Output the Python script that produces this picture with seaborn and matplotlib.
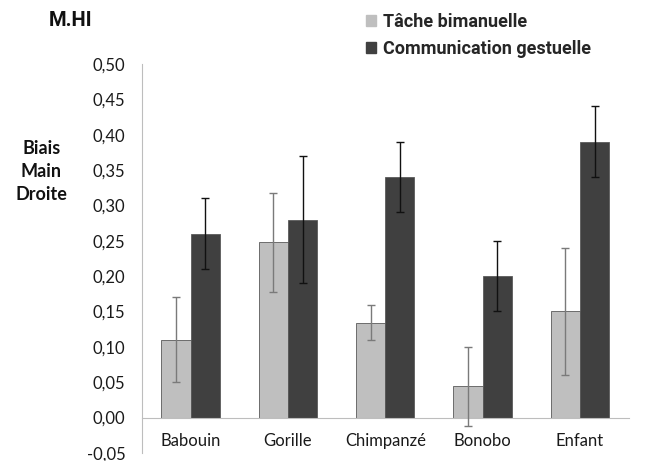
import matplotlib
matplotlib.use("Agg")
import matplotlib.pyplot as plt
from matplotlib.ticker import FuncFormatter, MultipleLocator
import seaborn as sns
import pandas as pd

# data
categories = ["Babouin", "Gorille", "Chimpanzé", "Bonobo", "Enfant"]
series = ["Tâche bimanuelle", "Communication gestuelle"]
bimanuelle = [0.110, 0.248, 0.134, 0.044, 0.150]
bimanuelle_err = [0.060, 0.070, 0.025, 0.056, 0.090]
gestuelle = [0.260, 0.280, 0.340, 0.200, 0.390]
gestuelle_err = [0.050, 0.090, 0.050, 0.050, 0.050]

colors = ["#bfbfbf", "#404040"]
err_colors = ["#7a7a7a", "#111111"]

df = pd.DataFrame({
    "espece": categories * 2,
    "serie": [series[0]] * 5 + [series[1]] * 5,
    "valeur": bimanuelle + gestuelle,
})

sns.set_style("white")
plt.rcParams["font.family"] = ["Lato", "DejaVu Sans"]

fig = plt.figure(figsize=(6.47, 4.61), dpi=100)
ax = fig.add_axes([0.2195, 0.0174, 0.752, 0.844])

sns.barplot(data=df, x="espece", y="valeur", hue="serie", order=categories,
            hue_order=series, palette=colors, width=0.6, errorbar=None,
            edgecolor="#5a5a5a", linewidth=0.6, ax=ax)

# error bars on top of each bar
for cont, errs, ec in zip(ax.containers, [bimanuelle_err, gestuelle_err], err_colors):
    xs = [p.get_x() + p.get_width() / 2 for p in cont.patches]
    ys = [p.get_height() for p in cont.patches]
    ax.errorbar(xs, ys, yerr=errs, fmt="none", ecolor=ec, elinewidth=1.0,
                capsize=3, capthick=1.0, zorder=5)

ax.set_ylim(-0.05, 0.50)
ax.set_xlim(-0.5, 4.5)
ax.yaxis.set_major_locator(MultipleLocator(0.05))
ax.yaxis.set_major_formatter(FuncFormatter(lambda v, p: f"{v:.2f}".replace(".", ",").replace("-0,00", "0,00")))

for s in ["top", "right"]:
    ax.spines[s].set_visible(False)
ax.spines["bottom"].set_position(("data", 0))
ax.spines["bottom"].set_color("#bdbdbd")
ax.spines["left"].set_color("#bdbdbd")
ax.tick_params(axis="y", direction="out", length=5, color="#bdbdbd",
               labelsize=12, labelcolor="#1a1a1a", pad=7)
ax.tick_params(axis="x", length=0, labelsize=12, labelcolor="#1a1a1a", pad=11)
ax.set_xlabel("")
ax.set_ylabel("")

narrow = ["Roboto", "DejaVu Sans"]
fig.text(0.075, 0.955, "M.HI", fontsize=14.5, fontweight="bold", family=narrow,
         ha="left", va="center", color="#111111")
fig.text(0.064, 0.628, "Biais\nMain\nDroite", fontsize=13, fontweight="bold",
         ha="center", va="center", linespacing=1.4, color="#111111")

ax.legend_.remove()
handles = [plt.Rectangle((0, 0), 1, 1, color=c) for c in colors]
fig.legend(handles, series, loc="upper left", bbox_to_anchor=(0.555, 0.988),
           frameon=False, prop={"family": narrow, "weight": "bold", "size": 13},
           handlelength=0.55, handleheight=0.55, handletextpad=0.35,
           labelspacing=0.5, borderaxespad=0)

fig.savefig("out.png", dpi=100)
